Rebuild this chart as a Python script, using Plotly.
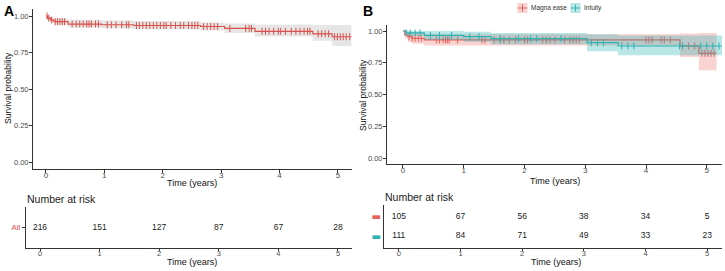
import plotly.graph_objects as go
import numpy as np

W, H = 725, 271

# ---------------- Data ----------------
# Panel A (all patients)
a_t = [0, 0.03, 0.08, 0.14, 0.38, 0.95, 1.5, 2.65, 3.06, 3.58, 4.57, 4.9]
a_s = [1.0, 0.985, 0.972, 0.961, 0.945, 0.94, 0.935, 0.928, 0.915, 0.895, 0.878, 0.858]
a_lo = [1.0, 0.97, 0.955, 0.94, 0.922, 0.915, 0.91, 0.9, 0.884, 0.86, 0.83, 0.795]
a_hi = [1.0, 1.0, 0.992, 0.984, 0.975, 0.97, 0.965, 0.955, 0.948, 0.942, 0.938, 0.938]
a_end = 5.23
a_cens = [0.02, 0.05, 0.1, 0.16, 0.2, 0.24, 0.28, 0.32, 0.45, 0.52, 0.58, 0.64, 0.7, 0.74, 0.78,
          0.85, 0.9, 1.05, 1.12, 1.2, 1.3, 1.38, 1.42, 1.55, 1.6, 1.66, 1.72, 1.78, 1.84, 1.9,
          1.96, 2.02, 2.06, 2.14, 2.22, 2.3, 2.36, 2.44, 2.5, 2.55, 2.6, 2.7, 2.76, 2.82, 2.88,
          2.94, 3.15, 3.42, 3.48, 3.52, 3.7, 3.76, 3.82, 3.9, 3.98, 4.02, 4.1, 4.2, 4.28, 4.35,
          4.42, 4.48, 4.52, 4.66, 4.72, 4.78, 4.84, 4.94, 4.99, 5.04, 5.09, 5.14, 5.2]

# Panel B
m_t = [0, 0.03, 0.08, 0.15, 0.35, 4.56, 4.87]
m_s = [1.0, 0.97, 0.955, 0.942, 0.93, 0.883, 0.824]
m_lo = [1.0, 0.94, 0.915, 0.9, 0.885, 0.795, 0.69]
m_hi = [1.0, 1.0, 0.995, 0.985, 0.975, 0.98, 0.985]
m_end = 5.16
m_cens = [0.1, 0.15, 0.2, 0.25, 0.3, 0.55, 0.6, 0.66, 0.7, 0.73, 0.76, 0.9, 1.3, 1.35,
          1.5, 1.6, 1.66, 1.75, 1.85, 2.0, 2.05, 2.3, 2.36, 2.42, 2.5, 2.66, 2.75, 2.8,
          2.85, 2.9, 4.0, 4.05, 4.1, 4.25, 4.3, 4.4, 4.7, 4.8, 4.92, 4.97, 5.02, 5.07, 5.12]

i_t = [0, 0.05, 0.35, 1.0, 1.45, 3.03, 3.54]
i_s = [1.0, 0.985, 0.965, 0.955, 0.94, 0.908, 0.882]
i_lo = [1.0, 0.96, 0.93, 0.915, 0.895, 0.84, 0.81]
i_hi = [1.0, 1.0, 1.0, 0.995, 0.985, 0.975, 0.965]
i_end = 5.25
i_cens = [0.05, 0.12, 0.2, 0.28, 0.45, 0.6, 0.8, 1.1, 1.25, 1.6, 1.9, 2.1, 2.2, 2.6,
          3.1, 3.2, 3.3, 3.6, 3.7, 3.8, 4.55, 4.6, 4.9, 5.0, 5.1, 5.2]

groups = ["Magna ease", "Intuity"]

risk_times = [0, 1, 2, 3, 4, 5]
risk_all = [216, 151, 127, 87, 67, 28]
risk_magna = [105, 67, 56, 38, 34, 5]
risk_intuity = [111, 84, 71, 49, 33, 23]

RED_A = "#D9524C"
RED = "#E8615B"
TEAL = "#2FB3B3"
BAND_RED = "rgba(232,97,91,0.28)"
BAND_TEAL = "rgba(47,179,179,0.33)"
FONT = "Liberation Sans, Arial, sans-serif"
TICKC = "#4D4D4D"


def step_xy(t, s, end):
    return list(t) + [end], list(s) + [s[-1]]


def surv_at(t, s, x):
    idx = np.searchsorted(np.array(t), x, side="right") - 1
    return [s[i] for i in idx]


def xd(p0, p1):
    return [p0 / W, p1 / W]


def yd(top, bottom):
    return [1 - bottom / H, 1 - top / H]


fig = go.Figure()


def add_curve(t, s, lo, hi, end, cens, color, band, xa, ya):
    x, ylo = step_xy(t, lo, end)
    _, yhi = step_xy(t, hi, end)
    _, ys = step_xy(t, s, end)
    fig.add_trace(go.Scatter(x=x, y=ylo, mode="lines", line=dict(width=0, shape="hv"),
                             showlegend=False, xaxis=xa, yaxis=ya, hoverinfo="skip"))
    fig.add_trace(go.Scatter(x=x, y=yhi, mode="lines", line=dict(width=0, shape="hv"),
                             fill="tonexty", fillcolor=band, showlegend=False,
                             xaxis=xa, yaxis=ya, hoverinfo="skip"))
    fig.add_trace(go.Scatter(x=x, y=ys, mode="lines", line=dict(color=color, width=1.2, shape="hv"),
                             showlegend=False, xaxis=xa, yaxis=ya))
    fig.add_trace(go.Scatter(x=cens, y=surv_at(t, s, cens), mode="markers",
                             marker=dict(symbol="line-ns", size=5, line=dict(color=color, width=1)),
                             showlegend=False, xaxis=xa, yaxis=ya))


add_curve(a_t, a_s, a_lo, a_hi, a_end, a_cens, RED_A, "rgba(200,200,200,0.45)", "x", "y")
add_curve(m_t, m_s, m_lo, m_hi, m_end, m_cens, RED, BAND_RED, "x2", "y2")
add_curve(i_t, i_s, i_lo, i_hi, i_end, i_cens, TEAL, BAND_TEAL, "x2", "y2")

# Hand-built legend (on a helper axis in the top strip of panel B)
leg_x = [0, 1]
fig.add_trace(go.Scatter(x=leg_x, y=[0, 0], mode="markers",
                         marker=dict(symbol="square", size=10, color=[BAND_RED, BAND_TEAL], line=dict(width=0)),
                         showlegend=False, xaxis="x5", yaxis="y5", hoverinfo="skip"))
for xv, col in zip(leg_x, [RED, TEAL]):
    fig.add_trace(go.Scatter(x=[xv - 0.09, xv + 0.09], y=[0, 0], mode="lines",
                             line=dict(color=col, width=1.2), showlegend=False,
                             xaxis="x5", yaxis="y5", hoverinfo="skip"))
fig.add_trace(go.Scatter(x=leg_x, y=[0, 0], mode="markers",
                         marker=dict(symbol="line-ns", size=5, line=dict(color=[RED, TEAL], width=1)),
                         showlegend=False, xaxis="x5", yaxis="y5", hoverinfo="skip"))
fig.add_trace(go.Scatter(x=[v + 0.16 for v in leg_x], y=[0, 0], mode="text", text=groups,
                         textposition="middle right",
                         textfont=dict(size=6.5, color="#333", family=FONT),
                         showlegend=False, xaxis="x5", yaxis="y5", hoverinfo="skip"))

# Risk tables
rfont = dict(size=8.5, color="#222", family=FONT)
fig.add_trace(go.Scatter(x=risk_times, y=["All"] * 6, text=[str(v) for v in risk_all], mode="text",
                         textfont=rfont, showlegend=False, xaxis="x3", yaxis="y3"))
fig.add_trace(go.Scatter(x=risk_times, y=["Intuity"] * 6, text=[str(v) for v in risk_intuity], mode="text",
                         textfont=rfont, showlegend=False, xaxis="x4", yaxis="y4"))
fig.add_trace(go.Scatter(x=risk_times, y=["Magna"] * 6, text=[str(v) for v in risk_magna], mode="text",
                         textfont=rfont, showlegend=False, xaxis="x4", yaxis="y4"))


def ax(**kw):
    d = dict(showgrid=False, zeroline=False, showline=True, linecolor="#333", linewidth=1,
             ticks="outside", ticklen=3, tickcolor="#333", tickwidth=1,
             tickfont=dict(size=8, color=TICKC, family=FONT))
    d.update(kw)
    return d


tickv = [0, 0.25, 0.5, 0.75, 1.0]
tickt = ["0.00", "0.25", "0.50", "0.75", "1.00"]
rx_font = dict(size=7.5, color=TICKC, family=FONT)
y_font = dict(size=7.5, color=TICKC, family=FONT)


def ann(text, px, py, size, angle=0, color="#111", xanchor="center"):
    return dict(text=text, x=px / W, y=1 - py / H, xref="paper", yref="paper",
                xanchor=xanchor, yanchor="middle", textangle=angle, showarrow=False,
                font=dict(size=size, color=color, family=FONT))


fig.update_layout(
    width=W, height=H, margin=dict(l=0, r=0, t=0, b=0),
    paper_bgcolor="white", plot_bgcolor="white",
    font=dict(family=FONT), showlegend=False,
    xaxis=ax(domain=xd(33, 352), range=[-0.22, 5.24], anchor="y", tickvals=risk_times,
             ticklabelstandoff=-5),
    yaxis=ax(domain=yd(8.7, 169.3), range=[-0.05, 1.05], anchor="x", tickvals=tickv, ticktext=tickt,
             tickfont=y_font, ticklabelstandoff=-1),
    xaxis2=ax(domain=xd(387, 722), range=[-0.263, 5.25], anchor="y2", tickvals=risk_times,
              ticklabelstandoff=-5),
    yaxis2=ax(domain=yd(24.65, 164.35), range=[-0.05, 1.05], anchor="x2", tickvals=tickv, ticktext=tickt,
              tickfont=y_font, ticklabelstandoff=-1),
    xaxis3=ax(domain=xd(26, 352), range=[-0.235, 5.235], anchor="y3", tickvals=risk_times,
              ticklen=2, tickfont=rx_font, ticklabelstandoff=-4),
    yaxis3=ax(domain=yd(207, 248), anchor="x3", type="category", categoryarray=["All"],
              range=[-0.5, 0.5], tickfont=dict(size=8, color=RED_A, family=FONT)),
    xaxis4=ax(domain=xd(384, 722), range=[-0.24, 5.24], anchor="y4", tickvals=risk_times,
              ticklen=2, tickfont=rx_font, ticklabelstandoff=-4),
    yaxis4=ax(domain=yd(205, 248), anchor="x4", type="category", categoryarray=["Intuity", "Magna"],
              range=[-0.62, 1.62], tickvals=["Intuity", "Magna"], ticks="",
              ticktext=[f"<span style='color:{TEAL}'><b>▬</b></span>",
                        f"<span style='color:{RED}'><b>▬</b></span>"],
              tickfont=dict(size=10, color=TICKC, family="DejaVu Sans")),
    # helper axis for the legend: key centres at x=522.5 and 575.5 px
    xaxis5=dict(domain=xd(522.5 - 53, 522.5 + 106), range=[-1, 2], visible=False, fixedrange=True),
    yaxis5=dict(domain=yd(0, 16), range=[-1, 1], visible=False, fixedrange=True),
    annotations=[
        dict(text="<b>A</b>", x=2 / W, y=1 - 1 / H, xref="paper", yref="paper", xanchor="left",
             yanchor="top", showarrow=False, font=dict(size=14, color="black", family=FONT)),
        dict(text="<b>B</b>", x=361 / W, y=1 - 1 / H, xref="paper", yref="paper", xanchor="left",
             yanchor="top", showarrow=False, font=dict(size=14, color="black", family=FONT)),
        ann("Number at risk", 25, 199, 10.5, color="#222", xanchor="left"),
        ann("Number at risk", 383, 197, 10.5, color="#222", xanchor="left"),
        ann("Time (years)", 192, 183, 9),
        ann("Time (years)", 555, 181, 9),
        ann("Time (years)", 192, 262, 9),
        ann("Time (years)", 556, 262, 9),
        ann("Survival probability", 8, 88, 8.5, angle=-90),
        ann("Survival probability", 363, 95, 8.5, angle=-90),
    ],
)

fig.write_html("out.html")
